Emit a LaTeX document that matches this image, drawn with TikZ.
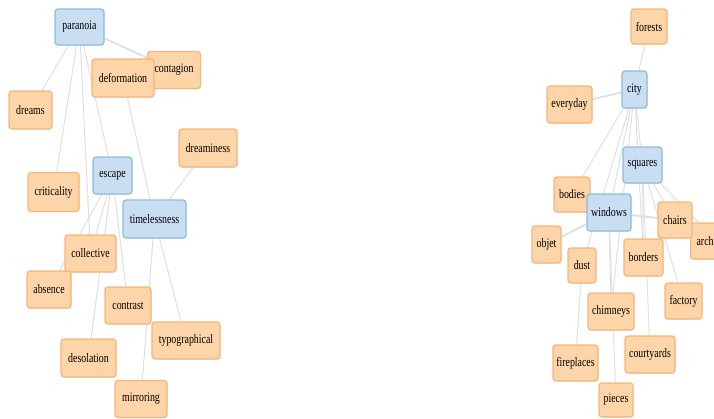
\documentclass[tikz,border=0pt]{standalone}
\usepackage{fontspec}
\setmainfont{Liberation Serif}[FakeStretch=0.76]
\usetikzlibrary{shadows}
\definecolor{tfill}{HTML}{FDD5A8}
\definecolor{tdraw}{HTML}{F5B679}
\definecolor{hfill}{HTML}{C9DEF0}
\definecolor{hdraw}{HTML}{8BBDDF}
\definecolor{edgec}{HTML}{E0E0E0}
\pgfdeclarelayer{paper}
\pgfdeclarelayer{edges}
\pgfsetlayers{paper,edges,main}
\begin{document}
\begin{tikzpicture}[x=1pt,y=-1pt,
  box/.style={rounded corners=3pt, line width=1.2pt, inner sep=0pt,
    font=\fontsize{13}{15}\selectfont, text=black,
    drop shadow={opacity=0.12, shadow xshift=0.6pt, shadow yshift=-0.8pt}},
  term/.style={box, fill=tfill, draw=tdraw},
  hub/.style={box, fill=hfill, draw=hdraw},
  link/.style={draw=edgec, line width=1pt},
  biglink/.style={draw=edgec, line width=1.8pt},
  sz/.style 2 args={minimum width=#1pt, minimum height=#2pt}]
\useasboundingbox (0,0) rectangle (714,418);
\begin{pgfonlayer}{paper}
\fill[white] (0,0) rectangle (714,418);
\end{pgfonlayer}
\clip (0,0) rectangle (714,418);

% ---- left cluster ----
\node[term, sz={53}{37}] (contagion) at (174,70) {contagion};
\node[term, sz={62}{38}] (deformation) at (123,78) {deformation};
\node[hub, sz={49}{36}] (paranoia) at (79.5,27) {paranoia};
\node[term, sz={43}{38}] (dreams) at (30.5,110) {dreams};
\node[term, sz={58}{38}] (dreaminess) at (208,148) {dreaminess};
\node[term, sz={51}{39}] (criticality) at (53.5,192) {criticality};
\node[hub, sz={39}{37}] (escape) at (112.5,175.5) {escape};
\node[hub, sz={63}{38}] (timelessness) at (154.5,219) {timelessness};
\node[term, sz={51}{37}] (collective) at (90.5,253.5) {collective};
\node[term, sz={44}{37}] (absence) at (49,289.5) {absence};
\node[term, sz={46}{37}] (contrast) at (128,305.5) {contrast};
\node[term, sz={68}{37}] (typographical) at (186,340.5) {typographical};
\node[term, sz={55}{38}] (desolation) at (88.5,358) {desolation};
\node[term, sz={52}{37}] (mirroring) at (141,399) {mirroring};

% ---- right cluster ----
\node[term, sz={36}{35}] (forests) at (649,26.5) {forests};
\node[hub, sz={25}{37}] (city) at (634.5,89.5) {city};
\node[term, sz={45}{37}] (everyday) at (569.5,104.5) {everyday};
\node[hub, sz={39}{36}] (squares) at (642.5,165) {squares};
\node[term, sz={36}{35}] (bodies) at (572,194.5) {bodies};
\node[hub, sz={44}{37}] (windows) at (609,212.5) {windows};
\node[term, anchor=west, minimum height=36pt, inner xsep=6pt, text width=40pt, align=left] (arche) at (690,241) {arche};
\node[term, sz={34}{36}] (chairs) at (675,220) {chairs};
\node[term, sz={29}{37}] (objet) at (546.5,244.5) {objet};
\node[term, sz={28}{35}] (dust) at (582,265.5) {dust};
\node[term, sz={39}{37}] (borders) at (643.5,257.5) {borders};
\node[term, sz={37}{36}] (factory) at (683.5,301) {factory};
\node[term, sz={46}{37}] (chimneys) at (611,311.5) {chimneys};
\node[term, sz={50}{37}] (courtyards) at (650,354.5) {courtyards};
\node[term, sz={45}{36}] (fireplaces) at (575.5,363) {fireplaces};
\node[term, sz={34}{34}] (pieces) at (616,400) {pieces};

\begin{pgfonlayer}{edges}
% left
\draw[biglink] (paranoia) -- (contagion);
\draw[link] (paranoia) -- (dreams);
\draw[link] (paranoia) -- (criticality);
\draw[link] (paranoia) -- (collective);
\draw[link] (paranoia) -- (escape);
\draw[link] (deformation) -- (timelessness);
\draw[link] (timelessness) -- (dreaminess);
\draw[link] (escape) -- (absence);
\draw[link] (escape) -- (collective);
\draw[link] (escape) -- (desolation);
\draw[link] (escape) -- (contrast);
\draw[link] (timelessness) -- (mirroring);
\draw[link] (timelessness) -- (typographical);
% right
\draw[link] (forests) -- (city);
\draw[biglink] (everyday) -- (city);
\draw[link] (city) -- (bodies);
\draw[link] (city) -- (windows);
\draw[link] (city) -- (dust);
\draw[link] (city) -- (squares);
\draw[link] (city) -- (chimneys);
\draw[link] (city) -- (borders);
\draw[link] (dust) -- (fireplaces);
\draw[biglink] (windows) -- (objet);
\draw[biglink] (windows) -- (chairs);
\draw[link] (windows) -- (chimneys);
\draw[link] (windows) -- (pieces);
\draw[link] (squares) -- (chairs);
\draw[link] (squares) -- (arche);
\draw[link] (squares) -- (factory);
\draw[link] (squares) -- (courtyards);
\draw[link] (squares) -- (borders);
\end{pgfonlayer}
\end{tikzpicture}
\end{document}
